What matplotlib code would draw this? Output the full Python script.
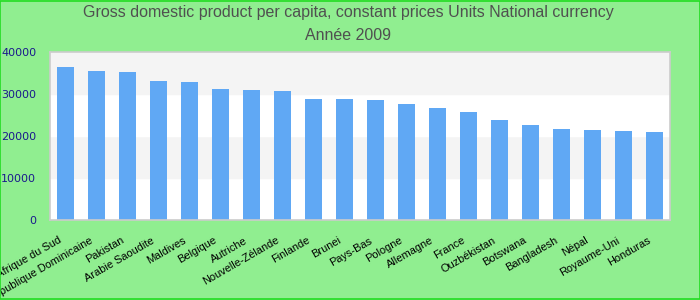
import numpy as np
import matplotlib.pyplot as plt
from matplotlib.transforms import ScaledTranslation

plt.close('all')

# --- data ---
countries = ["Afrique du Sud", "République Dominicaine", "Pakistan", "Arabie Saoudite",
             "Maldives", "Belgique", "Autriche", "Nouvelle-Zélande", "Finlande", "Brunei",
             "Pays-Bas", "Pologne", "Allemagne", "France", "Ouzbékistan", "Botswana",
             "Bangladesh", "Népal", "Royaume-Uni", "Honduras"]
gdp = [36300, 35400, 35100, 33000, 32800, 31100, 30900, 30600, 28700, 28700,
       28500, 27500, 26600, 25600, 23700, 22600, 21600, 21400, 21100, 20900]
yticks = [0, 10000, 20000, 30000, 40000]

fig = plt.figure(figsize=(7, 3), dpi=100, facecolor='#90ee90')
ax = fig.add_axes([50/700, 1 - 220/300, 620/700, 168.5/300])

# alternating bands
for i in range(len(yticks) - 1):
    ax.axhspan(yticks[i], yticks[i+1], color='white' if i % 2 == 0 else '#f4f4f4', zorder=0)

x = np.arange(len(countries))
ax.bar(x, gdp, width=0.55, color='#60a8f4', zorder=2)

ax.set_xlim(-0.5, len(countries) - 0.5)
ax.set_ylim(0, 40000)
ax.set_yticks(yticks)
ax.set_yticklabels([str(v) for v in yticks], color='#1a1a8c', fontsize=8)
ax.set_xticks(x)
ax.set_xticklabels(countries, rotation=30, ha='right', va='top', rotation_mode='anchor',
                   fontsize=7.9, family='Liberation Sans')
ax.tick_params(axis='both', length=0)
ax.tick_params(axis='x', pad=11)
ax.tick_params(axis='y', pad=10)
shift = ScaledTranslation(-7/100, 0, fig.dpi_scale_trans)
for lbl in ax.get_xticklabels():
    lbl.set_transform(lbl.get_transform() + shift)
for sp in ax.spines.values():
    sp.set_color('#cccccc')
    sp.set_linewidth(1.2)

fig.text(0.497, 1 - 13/300, "Gross domestic product per capita, constant prices Units National currency",
         ha='center', va='center', fontsize=11.5, color='#505050', family='Liberation Sans')
fig.text(0.497, 1 - 36/300, "Année 2009",
         ha='center', va='center', fontsize=11.5, color='#505050', family='Liberation Sans')

# outer frame
fig.patches.append(plt.Rectangle((0.0007, 0.0017), 0.9986, 0.9966, transform=fig.transFigure,
                                 fill=False, edgecolor='#22dd22', linewidth=1.2))

fig.savefig('out.png', dpi=100, facecolor=fig.get_facecolor())
